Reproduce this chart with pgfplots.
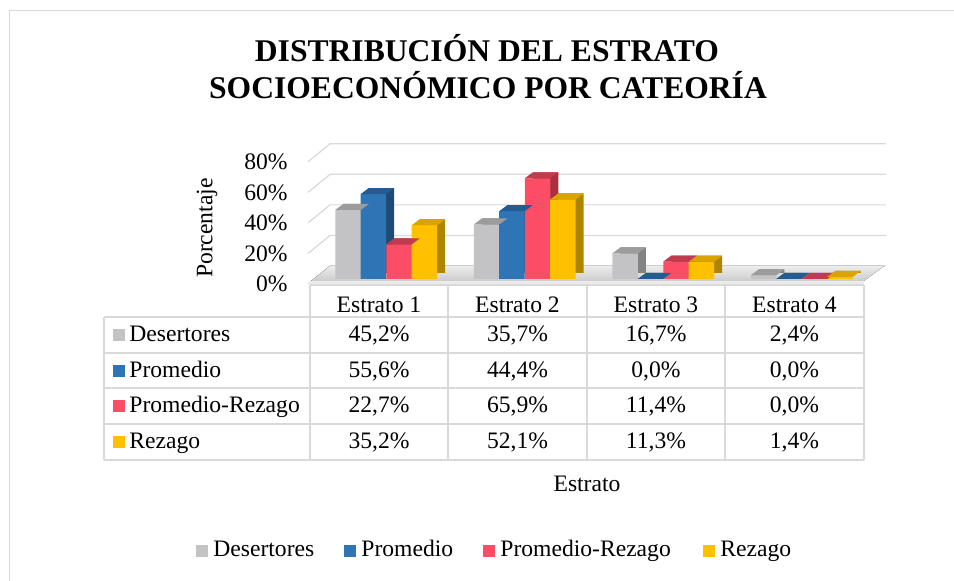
\documentclass[border=0pt]{standalone}
\usepackage{pgfplots}
\pgfplotsset{compat=1.18}
\usepackage{pgfplotstable}
\usepackage{fontspec}
\setmainfont{Liberation Serif}

\definecolor{cDes}{HTML}{C3C3C5}
\definecolor{cDesTop}{HTML}{9C9C9C}
\definecolor{cDesSide}{HTML}{838383}
\definecolor{cPro}{HTML}{2E75B6}
\definecolor{cProTop}{HTML}{245C92}
\definecolor{cProSide}{HTML}{1F4A75}
\definecolor{cPR}{HTML}{FB4D65}
\definecolor{cPRTop}{HTML}{C23A4E}
\definecolor{cPRSide}{HTML}{A8303F}
\definecolor{cRez}{HTML}{FFC000}
\definecolor{cRezTop}{HTML}{D9A300}
\definecolor{cRezSide}{HTML}{AE8500}
\definecolor{lgray}{HTML}{D9D9D9}

\pgfkeys{/pgf/number format/assume math mode=true}

\pgfdeclareplotmark{topface}{%
  \pgfpathmoveto{\pgfqpoint{-6.375pt}{0pt}}%
  \pgfpathlineto{\pgfqpoint{6.375pt}{0pt}}%
  \pgfpathlineto{\pgfqpoint{10.375pt}{3pt}}%
  \pgfpathlineto{\pgfqpoint{-2.375pt}{3pt}}%
  \pgfpathclose
  \pgfusepathqfill}

\pgfplotstableread{
x Des Pro PR Rez
0 45.2 55.6 22.7 35.2
1 35.7 44.4 65.9 52.1
2 16.7 0.0 11.4 11.3
3 2.4 0.0 0.0 1.4
}\datatable

\begin{document}
\begin{tikzpicture}[font=\fontsize{11.8}{14}\selectfont,
  px/.style={x=0.5pt,y=-0.5pt}]
\path[use as bounding box] (0,0) rectangle (477pt,-290.5pt);

\begin{scope}[px]
  % outer frame
  \draw[lgray, line width=0.5pt] (954,11) -- (9,11) -- (9,581);
  % title
  \node[anchor=base, font=\bfseries\fontsize{15.8}{19}\selectfont] at (487,62) {DISTRIBUCIÓN DEL ESTRATO};
  \node[anchor=base, font=\bfseries\fontsize{15.8}{19}\selectfont] at (488,99) {SOCIOECONÓMICO POR CATEORÍA};
  % 3D gridlines
  \foreach \v in {0,20,40,60,80} {
    \pgfmathsetmacro\yb{266-1.5275*\v}
    \draw[lgray, line width=0.6pt] (308,\yb+18) -- (330,\yb) -- (886,\yb);
  }
  % floor
  \fill[top color=gray!15, middle color=gray!70, bottom color=gray!40] (311,281) -- (864,281) -- (884,266) -- (330,266) -- cycle;
  \fill[gray!15] (310,281) rectangle (864,285);
  % y label
  \node[rotate=90] at (207,228) {Porcentaje};
\end{scope}

\begin{axis}[
  at={(155pt,-139.5pt)}, anchor=south west,
  scale only axis, width=277pt, height=61.1pt,
  xmin=-0.5, xmax=3.5, ymin=0, ymax=80,
  xtick=\empty,
  ytick={0,20,40,60,80},
  yticklabel={\pgfmathprintnumber{\tick}\%},
  yticklabel style={anchor=east, inner sep=0pt, xshift=-11pt, yshift=-2.5pt,
    font=\fontsize{11.8}{14}\selectfont},
  axis line style={draw=none},
  tick style={draw=none},
  clip=false,
]
% Desertores
\addplot[ybar, bar width=12.75pt, bar shift=-15.6pt, fill=cDesSide, draw=none, xshift=4pt, yshift=3pt] table[x=x,y=Des]{\datatable};
\addplot[ybar, bar width=12.75pt, bar shift=-15.6pt, fill=cDes, draw=none] table[x=x,y=Des]{\datatable};
\addplot[only marks, mark=topface, mark options={xshift=-15.6pt, fill=cDesTop, draw=none}] table[x=x,y=Des]{\datatable};
% Promedio
\addplot[ybar, bar width=12.75pt, bar shift=-2.9pt, fill=cProSide, draw=none, xshift=4pt, yshift=3pt] table[x=x,y=Pro]{\datatable};
\addplot[ybar, bar width=12.75pt, bar shift=-2.9pt, fill=cPro, draw=none] table[x=x,y=Pro]{\datatable};
\addplot[only marks, mark=topface, mark options={xshift=-2.9pt, fill=cProTop, draw=none}] table[x=x,y=Pro]{\datatable};
% Promedio-Rezago
\addplot[ybar, bar width=12.75pt, bar shift=9.9pt, fill=cPRSide, draw=none, xshift=4pt, yshift=3pt] table[x=x,y=PR]{\datatable};
\addplot[ybar, bar width=12.75pt, bar shift=9.9pt, fill=cPR, draw=none] table[x=x,y=PR]{\datatable};
\addplot[only marks, mark=topface, mark options={xshift=9.9pt, fill=cPRTop, draw=none}] table[x=x,y=PR]{\datatable};
% Rezago
\addplot[ybar, bar width=12.75pt, bar shift=22.6pt, fill=cRezSide, draw=none, xshift=4pt, yshift=3pt] table[x=x,y=Rez]{\datatable};
\addplot[ybar, bar width=12.75pt, bar shift=22.6pt, fill=cRez, draw=none] table[x=x,y=Rez]{\datatable};
\addplot[only marks, mark=topface, mark options={xshift=22.6pt, fill=cRezTop, draw=none}] table[x=x,y=Rez]{\datatable};
\end{axis}

\begin{scope}[px]
  % data table
  \draw[lgray, line width=0.6pt] (310,285) -- (864,285);
  \foreach \yy in {317,353,388,424,460}
    \draw[lgray, line width=0.6pt] (104,\yy) -- (864,\yy);
  \draw[lgray, line width=0.6pt] (104,317) -- (104,460);
  \foreach \xx in {310,448,587,725,864}
    \draw[lgray, line width=0.6pt] (\xx,285) -- (\xx,460);
  \foreach \i/\xc in {1/379,2/517.5,3/656,4/794.5}
    \node[anchor=base] at (\xc,313) {Estrato \i};
  \foreach \xc [count=\r from 0] in {379,517.5,656,794.5} {
    \foreach \col/\yy in {Des/342,Pro/378,PR/413,Rez/449} {
      \pgfplotstablegetelem{\r}{\col}\of\datatable
      \node[anchor=base] at (\xc,\yy) {\pgfmathprintnumber[fixed,fixed zerofill,precision=1,use comma]{\pgfplotsretval}\%};
    }
  }
  \foreach \name/\col/\yy in {Desertores/cDes/342,Promedio/cPro/378,Promedio-Rezago/cPR/413,Rezago/cRez/449} {
    \fill[\col] (113,\yy-12.5) rectangle (125,\yy-0.5);
    \node[anchor=base west, inner sep=0pt] at (129,\yy) {\name};
  }
  % x label
  \node[anchor=base] at (587,492) {Estrato};
  % legend
  \foreach \xs/\col/\name in {196/cDes/Desertores,344/cPro/Promedio,483/cPR/Promedio-Rezago,703/cRez/Rezago} {
    \fill[\col] (\xs,545) rectangle (\xs+12,557);
    \node[anchor=base west, inner sep=0pt] at (\xs+17,557) {\name};
  }
\end{scope}
\end{tikzpicture}
\end{document}
